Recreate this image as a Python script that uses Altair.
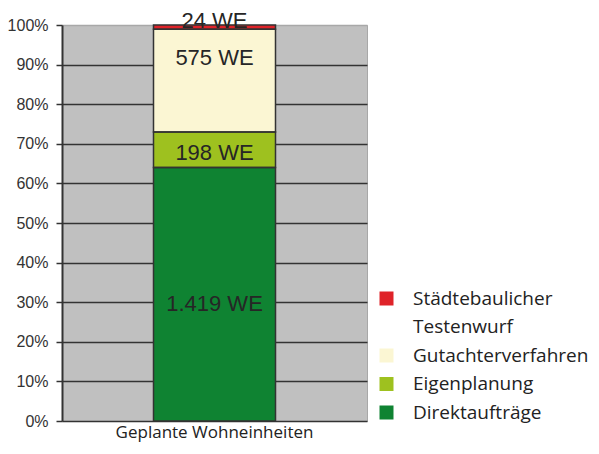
import altair as alt
import pandas as pd

# ---- data ----
group = ["Geplante Wohneinheiten"] * 4
categories = ["Direktaufträge", "Eigenplanung", "Gutachterverfahren", "Städtebaulicher Testenwurf"]
units = [1419, 198, 575, 24]
value_labels = ["1.419 WE", "198 WE", "575 WE", "24 WE"]
stack_rank = [0, 1, 2, 3]
y_ticks = [0.0, 0.1, 0.2, 0.3, 0.4, 0.5, 0.6, 0.7, 0.8, 0.9, 1.0]

legend_order = ["Städtebaulicher Testenwurf", "Testenwurf", "Gutachterverfahren", "Eigenplanung", "Direktaufträge"]
legend_colors = ["#df2329", "transparent", "#fbf6d3", "#9ec11f", "#0f8332"]

# style: vertical nudge of each value label (px)
label_dy = {"Direktaufträge": 10, "Eigenplanung": 3, "Gutachterverfahren": -23, "Städtebaulicher Testenwurf": -6}

df = pd.DataFrame({"group": group, "category": categories, "units": units,
                   "label": value_labels, "rank": stack_rank})

base = (
    alt.Chart(df)
    .transform_joinaggregate(total="sum(units)")
    .transform_window(cum="sum(units)", sort=[alt.SortField("rank")], frame=[None, 0])
    .transform_calculate(
        y0="(datum.cum - datum.units) / datum.total",
        y1="datum.cum / datum.total",
        mid="(datum.cum - datum.units / 2) / datum.total",
    )
)

x_enc = alt.X("group:N", title=None,
              scale=alt.Scale(paddingInner=0, paddingOuter=0),
              axis=alt.Axis(labelAngle=0, ticks=False, domain=False, labelFont="Open Sans",
                            labelFontSize=17, labelColor="#222", labelPadding=3, labelLimit=500))
y_scale = alt.Scale(domain=[0, 1], nice=False)
y_axis = alt.Axis(format=".0%", values=y_ticks, labelOverlap=False,
                  gridColor={"condition": {"test": "datum.value >= 1", "value": "#a8a8a8"},
                             "value": "#333333"})

fill_layer = base.mark_bar(width=alt.RelativeBandSize(0.4)).encode(
    x=x_enc,
    y=alt.Y("y0:Q", title=None, scale=y_scale, axis=y_axis),
    y2="y1:Q",
    color=alt.Color("category:N",
                    scale=alt.Scale(domain=legend_order, range=legend_colors),
                    legend=alt.Legend(title=None, orient="none", legendX=315, legendY=264,
                                      symbolType="square", symbolSize=196, symbolStrokeWidth=0,
                                      labelFont="Open Sans", labelFontSize=19, labelColor="#222",
                                      labelOffset=17, rowPadding=8.5, padding=0, labelLimit=300,
                                      labelExpr="datum.label == 'Städtebaulicher Testenwurf' ? 'Städtebaulicher' : datum.label")),
)

outline_layer = base.mark_bar(width=alt.RelativeBandSize(0.4), fillOpacity=0,
                              stroke="#333333", strokeWidth=1.5).encode(
    x=x_enc,
    y=alt.Y("y0:Q", title=None, scale=y_scale, axis=y_axis),
    y2="y1:Q",
    detail="category:N",
)

text_layers = []
for cat in categories:
    text_layers.append(
        base.transform_filter(alt.datum.category == cat)
        .mark_text(font="Liberation Sans", fontSize=22, color="#262626", baseline="middle",
                   dy=label_dy[cat])
        .encode(x=x_enc, y=alt.Y("mid:Q", title=None, scale=y_scale, axis=y_axis), text="label:N")
    )

chart = (
    alt.layer(fill_layer, outline_layer, *text_layers)
    .properties(width=305, height=396,
                autosize=alt.AutoSizeParams(type="none"),
                padding={"left": 54, "top": 17, "right": 224, "bottom": 25})
    .configure_view(fill="#c0c0c0", stroke="#a8a8a8", strokeWidth=1)
    .configure_axisY(domainColor="#333333", domainWidth=2, tickColor="#333333", tickWidth=1.5,
                     tickSize=6, gridWidth=1.5, labelFont="Liberation Sans", labelFontSize=16,
                     labelColor="#333333", labelPadding=8)
)

chart.save("out.html", embed_options={"renderer": "svg", "actions": False})
